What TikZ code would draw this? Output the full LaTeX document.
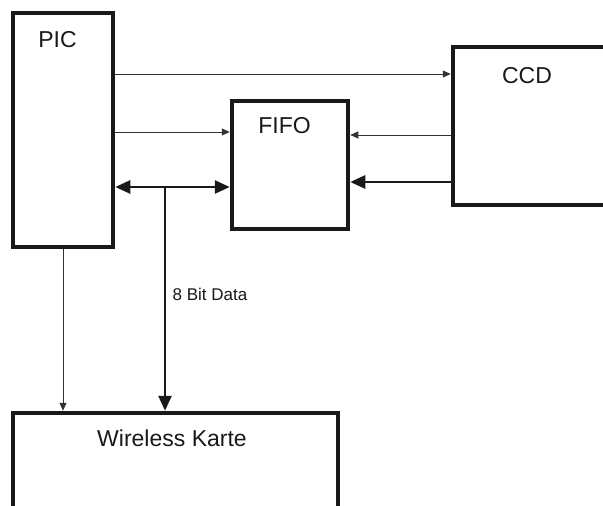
\documentclass[tikz,border=0pt]{standalone}
\usepackage{fontspec}
\setmainfont{Liberation Sans}
\usetikzlibrary{arrows.meta}
\begin{document}
\begin{tikzpicture}[x=1pt,y=-1pt,
  blk/.style={draw=black!90, line width=4.5pt, inner sep=0pt, minimum width=#1},
  lbl/.style={anchor=base, font=\fontsize{23}{26}\selectfont, text=black!90},
  small/.style={anchor=base, font=\fontsize{17}{19}\selectfont, text=black!90},
  thinarr/.style={draw=black!80, line width=0.9pt, -{Triangle[length=8pt,width=7pt]}},
  thickarr/.style={draw=black!90, line width=2.6pt, -{Triangle[length=15pt,width=13pt]}},
  dblarr/.style={draw=black!90, line width=2.6pt, {Triangle[length=15pt,width=13pt]}-{Triangle[length=15pt,width=13pt]}}
]
\useasboundingbox[fill=white] (0,0) rectangle (603,506);
% blocks
\node[blk=100pt, minimum height=234pt] (PIC) at (63,130) {};
\node[blk=207pt, minimum height=158pt] (CCD) at (556.5,126) {};
\node[blk=116pt, minimum height=128pt] (FIFO) at (290,165) {};
\node[blk=325pt, minimum height=110pt] (WK) at (175.5,468) {};
% labels
\node[lbl] (tPIC) at (57.5,47) {PIC};
\node[lbl] (tCCD) at (527,83.5) {CCD};
\node[lbl] (tFIFO) at (284.5,133) {FIFO};
\node[lbl] (tWK) at (172,446) {Wireless Karte};
\node[small] (t8) at (210,300) {8 Bit Data};
% helper coordinates
\coordinate (y1) at (0,74);
\coordinate (y2) at (0,132);
\coordinate (y3) at (0,135);
\coordinate (y4) at (0,182);
\coordinate (y5) at (0,187);
\coordinate (J) at (165,187);
\coordinate (xv) at (63,0);
% connectors
\draw[thinarr] (PIC.east |- y1) -- (CCD.west |- y1);
\draw[thinarr] (PIC.east |- y2) -- (FIFO.west |- y2);
\draw[thinarr] (CCD.west |- y3) -- (FIFO.east |- y3);
\draw[thickarr] (CCD.west |- y4) -- (FIFO.east |- y4);
\draw[dblarr] (PIC.east |- y5) -- (FIFO.west |- y5);
\draw[thickarr] (J) -- (J |- WK.north);
\draw[thinarr] (xv |- PIC.south) -- (xv |- WK.north);
\end{tikzpicture}
\end{document}
